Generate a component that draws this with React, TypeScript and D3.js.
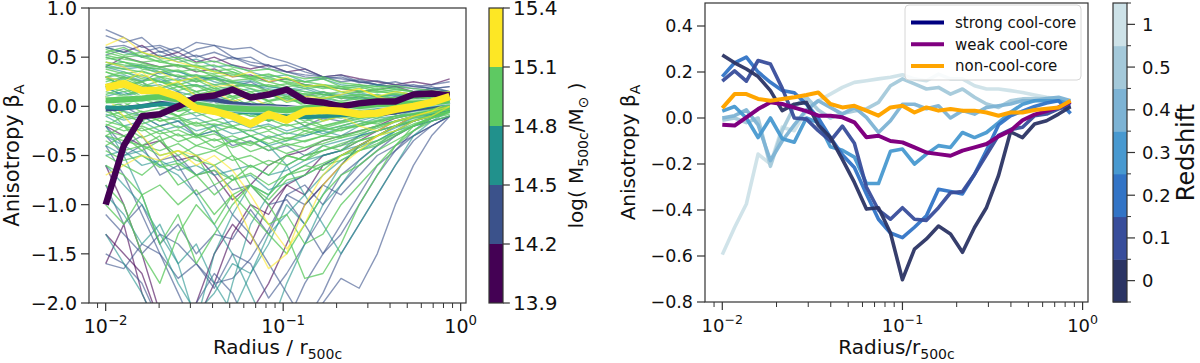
import React from 'react';
import * as d3 from 'd3';

// ---------- shared radial grid ----------
const LEFT_RADII = [0.0100, 0.01265, 0.0160, 0.0202, 0.0256, 0.0324, 0.0409, 0.0518, 0.0655, 0.0828, 0.1047, 0.1324, 0.1675, 0.2118, 0.2679, 0.3388, 0.4285, 0.5420, 0.6855, 0.8670];
const RIGHT_RADII = [0.0100, 0.0117, 0.0136, 0.0158, 0.0185, 0.0215, 0.0251, 0.0293, 0.0341, 0.0398, 0.0464, 0.0541, 0.0631, 0.0736, 0.0858, 0.1000, 0.1166, 0.1359, 0.1585, 0.1848, 0.2154, 0.2512, 0.2929, 0.3415, 0.3981, 0.4642, 0.5412, 0.6310, 0.7356, 0.8577];

// ---------- left panel: mass bins ----------
const MASS_EDGES = [13.9, 14.2, 14.5, 14.8, 15.1, 15.4];
const MASS_COLORS = ['#440154', '#3b528b', '#21918c', '#5ec962', '#fde725'];
const LEFT_Y_TICKS = [-2.0, -1.5, -1.0, -0.5, 0.0, 0.5, 1.0];

// individual cluster profiles: bin index (0..4) and values on LEFT_RADII
const THIN_BINS = [
  0, 0, 0, 0, 0, 0,
  1, 1, 1, 1, 1, 1, 1, 1, 1, 1, 1, 1, 1, 1,
  2, 2, 2, 2, 2, 2, 2, 2, 2, 2, 2, 2, 2, 2, 2, 2, 2, 2, 2, 2,
  3, 3, 3, 3, 3, 3, 3, 3, 3, 3, 3, 3, 3, 3, 3, 3, 3, 3, 3, 3,
  3, 3, 3, 3, 3, 3, 3, 3, 3, 3, 3, 3, 3, 3, 3, 3, 3, 3, 3, 3, 3, 3,
  4, 4, 4, 4, 4,
];
const THIN_PROFILES = [
  [.6, .55, .62, .5, .55, .45, .5, .42, .38, .42, .35, .38, .3, .32, .28, .25, .22, .25, .22, .28],
  [-1.6, -1.2, -1.9, -2.3, -2.5, -2.0, -1.5, -1.2, -1.4, -1.0, -.8, -.9, -.6, -.5, -.4, -.3, -.2, -.15, -.1, -.05],
  [-.6, -1.0, -1.5, -2.1, -2.4, -2.2, -1.8, -1.3, -1.0, -1.1, -.8, -.7, -.5, -.45, -.35, -.25, -.15, -.1, -.05, 0],
  [-.2, -.3, -.4, -.35, -.55, -.5, -.7, -.95, -.8, -.6, -.5, -.45, -.35, -.3, -.25, -.2, -.12, -.08, -.05, 0],
  [.4, .5, .45, .4, .42, .35, .38, .3, .32, .25, .28, .22, .2, .18, .15, .17, .2, .15, .18, .15],
  [-1.3, -1.5, -1.7, -2.2, -2.4, -2.6, -2.3, -2.5, -2.1, -1.8, -1.4, -1.0, -.8, -.6, -.4, -.3, -.2, -.1, -.05, 0],

  [.78, .7, .6, .62, .55, .65, .62, .58, .6, .5, .45, .38, .3, .28, .25, .22, .2, .18, .2, .15],
  [.72, .65, .7, .55, .6, .5, .55, .48, .5, .4, .42, .35, .3, .32, .25, .22, .25, .2, .22, .25],
  [-1.5, -1.6, -1.8, -2.2, -2.4, -2.0, -1.7, -1.9, -2.3, -2.6, -2.2, -1.8, -1.5, -1.2, -.9, -.6, -.45, -.3, -.2, -.1],
  [-1.1, -1.3, -1.5, -1.3, -1.4, -1.6, -1.8, -1.75, -1.55, -1.25, -.9, -.8, -1.0, -.7, -.55, -.4, -.3, -.2, -.15, -.1],
  [-.4, -.7, -1.1, -1.5, -1.9, -2.3, -2.5, -2.2, -2.4, -2.6, -2.3, -2.1, -2.0, -1.75, -1.85, -1.5, -1.0, -.6, -.3, -.1],
  [.1, 0, -.1, -.2, -.15, -.3, -.25, -.4, -.35, -.45, -.4, -.5, -.45, -.4, -.3, -.25, -.2, -.1, -.05, 0],
  [-1.6, -1.65, -1.4, -1.5, -1.75, -1.6, -1.85, -1.5, -1.6, -1.95, -1.7, -1.4, -1.1, -.8, -.6, -.45, -.3, -.2, -.12, -.05],
  [.3, .2, .25, .1, .15, 0, .05, -.1, -.05, -.15, -.1, -.2, -.12, -.15, -.1, -.05, -.08, 0, .02, .05],
  [.6, .62, .55, .6, .5, .58, .62, .5, .45, .42, .35, .32, .3, .25, .27, .22, .2, .22, .18, .2],
  [-.8, -1.2, -1.0, -1.4, -1.2, -1.5, -1.3, -1.35, -1.05, -1.3, -.9, -1.0, -.8, -.9, -.7, -.5, -.4, -.3, -.2, -.1],
  [-.3, -.5, -.4, -.7, -.6, -.9, -.8, -1.1, -1.3, -1.6, -1.9, -2.2, -1.9, -1.5, -1.2, -.9, -.6, -.35, -.2, -.1],
  [.2, .3, .25, .35, .3, .25, .3, .2, .25, .15, .2, .1, .15, .08, .1, .05, .1, .08, .1, .12],
  [.52, .58, .5, .56, .48, .52, .45, .5, .42, .38, .35, .3, .28, .3, .24, .26, .22, .2, .18, .2],
  [-.2, -.4, -.3, -.55, -.5, -.7, -.65, -.85, -.8, -1.0, -.95, -1.2, -1.5, -1.3, -1.0, -.7, -.45, -.25, -.12, -.05],

  [.6, .55, .5, .52, .45, .48, .4, .42, .35, .3, .32, .25, .28, .22, .2, .22, .18, .15, .18, .15],
  [.4, .35, .3, .25, .28, .2, .22, .15, .18, .1, .12, .05, .08, .05, .1, .05, .08, .05, .1, .08],
  [.1, .15, .05, .1, 0, .05, -.05, 0, -.08, -.05, -.12, -.08, -.1, -.05, -.08, -.02, 0, .02, .05, .05],
  [-.1, -.2, -.15, -.25, -.2, -.3, -.25, -.35, -.3, -.4, -.35, -.3, -.25, -.3, -.2, -.15, -.1, -.08, -.05, 0],
  [-.6, -.8, -1.0, -1.3, -1.6, -2.2, -2.5, -1.8, -1.2, -.9, -.7, -.6, -.5, -.45, -.3, -.25, -.2, -.15, -.1, -.05],
  [-1.3, -1.6, -1.9, -2.3, -2.5, -2.2, -1.5, -1.1, -.8, -.9, -.6, -.5, -.4, -.35, -.3, -.2, -.15, -.1, -.08, -.05],
  [.3, .25, .2, .22, .15, .1, .12, .05, .02, 0, -.05, -.02, -.08, -.05, -.02, 0, .02, .04, .03, .06],
  [-.3, -.4, -.5, -.6, -.7, -.9, -1.2, -1.5, -1.9, -2.3, -1.8, -1.4, -1.0, -.8, -.55, -.4, -.25, -.15, -.1, -.05],
  [.5, .45, .4, .38, .35, .3, .28, .25, .22, .2, .18, .15, .12, .1, .12, .1, .08, .1, .08, .07],
  [-.2, -.5, -.9, -1.4, -1.8, -2.1, -1.9, -1.6, -1.7, -1.4, -1.0, -1.2, -.9, -.6, -.4, -.3, -.2, -.12, -.08, -.04],
  [0, -.05, -.1, -.08, -.15, -.12, -.2, -.15, -.22, -.18, -.25, -.2, -.28, -.22, -.18, -.12, -.1, -.05, -.03, 0],
  [-.5, -.45, -.6, -.55, -.65, -.6, -.7, -.65, -.6, -.7, -.65, -.55, -.5, -.45, -.4, -.35, -.25, -.2, -.15, -.1],
  [.2, .1, .15, .05, 0, -.1, -.05, -.2, -.3, -.4, -.6, -.9, -1.2, -1.5, -1.2, -.9, -.6, -.3, -.15, -.05],
  [.45, .4, .42, .35, .3, .32, .25, .2, .22, .18, .15, .18, .12, .1, .08, .1, .12, .08, .1, .1],
  [.42, .38, .4, .33, .36, .28, .3, .24, .26, .2, .17, .2, .14, .12, .14, .1, .11, .09, .1, .1],
  [.18, .12, .16, .08, .1, .04, .06, -.02, .02, -.06, -.02, -.1, -.05, -.08, -.04, -.02, 0, .02, .03, .05],
  [-.08, -.14, -.1, -.2, -.15, -.25, -.2, -.28, -.24, -.32, -.27, -.3, -.24, -.2, -.15, -.1, -.07, -.04, -.02, .01],
  [-.4, -.5, -.45, -.6, -.55, -.7, -.6, -.75, -.7, -.85, -.78, -.7, -.6, -.5, -.4, -.3, -.22, -.15, -.08, -.04],
  [-.9, -1.1, -1.4, -1.2, -1.6, -1.4, -1.8, -2.1, -1.7, -1.3, -1.1, -.9, -.7, -.55, -.45, -.35, -.25, -.15, -.1, -.05],
  [.3, .32, .26, .28, .2, .22, .16, .18, .1, .12, .06, .08, .02, .05, .02, .04, .03, .05, .06, .07],

  [.55, .5, .52, .45, .42, .4, .35, .33, .3, .28, .25, .22, .2, .18, .2, .15, .17, .15, .12, .1],
  [.45, .42, .4, .38, .3, .32, .28, .25, .2, .22, .18, .15, .12, .15, .1, .12, .08, .1, .12, .08],
  [.3, .35, .28, .25, .2, .22, .15, .18, .1, .12, .08, .05, .1, .05, .08, .02, .05, .08, .06, .05],
  [.2, .15, .18, .1, .12, .05, .08, 0, .05, -.02, 0, -.05, .02, -.03, 0, .03, .02, .05, .04, .06],
  [.1, .05, .08, 0, -.05, -.02, -.08, -.05, -.1, -.12, -.08, -.15, -.1, -.12, -.08, -.05, -.06, -.02, 0, .02],
  [0, -.1, -.05, -.15, -.12, -.2, -.18, -.22, -.25, -.2, -.28, -.22, -.25, -.2, -.15, -.18, -.1, -.08, -.05, -.02],
  [-.15, -.2, -.25, -.2, -.3, -.28, -.35, -.3, -.38, -.32, -.4, -.35, -.3, -.32, -.25, -.2, -.15, -.12, -.1, -.05],
  [-.3, -.35, -.4, -.45, -.38, -.5, -.45, -.55, -.5, -.6, -.5, -.55, -.45, -.4, -.35, -.3, -.25, -.18, -.12, -.08],
  [.4, .38, .35, .3, .32, .25, .28, .2, .22, .15, .18, .12, .15, .1, .12, .1, .13, .1, .08, .1],
  [.5, .45, .42, .4, .35, .38, .3, .32, .28, .25, .2, .22, .18, .2, .15, .18, .15, .12, .15, .12],
  [-.5, -.6, -.7, -.55, -.8, -.7, -.9, -.75, -.6, -.7, -.5, -.55, -.4, -.45, -.35, -.3, -.2, -.15, -.1, -.05],
  [-1.0, -1.2, -.9, -1.4, -1.1, -1.6, -1.3, -1.0, -.8, -.9, -.7, -.6, -.65, -.5, -.45, -.4, -.3, -.2, -.12, -.05],
  [.3, .2, .1, 0, -.1, -.3, -.2, -.5, -.8, -1.0, -1.3, -1.75, -1.7, -1.4, -1.0, -.7, -.4, -.2, -.1, 0],
  [.2, .25, .15, .2, .1, .15, .05, .1, 0, .05, -.05, 0, -.1, -.05, -.08, 0, -.02, .02, .03, .05],
  [.35, .3, .25, .3, .2, .15, .2, .1, .15, .05, .1, 0, .05, .02, .05, .08, .05, .1, .08, .1],
  [-.2, -.1, -.15, -.05, -.1, 0, -.05, -.1, -.05, -.15, -.1, -.2, -.15, -.1, -.12, -.05, -.08, -.02, -.03, 0],
  [.05, 0, .1, .05, -.05, .02, -.02, -.1, -.05, -.15, -.08, -.12, -.2, -.15, -.1, -.12, -.05, -.03, 0, .03],
  [-.4, -.3, -.45, -.35, -.5, -.4, -.45, -.35, -.4, -.3, -.35, -.25, -.3, -.22, -.2, -.15, -.12, -.08, -.05, -.02],
  [-.8, -1.0, -1.5, -1.8, -1.3, -1.0, -1.2, -.9, -1.1, -1.3, -1.5, -1.2, -.9, -.7, -.6, -.45, -.35, -.25, -.15, -.1],
  [.55, .6, .5, .45, .48, .4, .42, .35, .3, .32, .28, .25, .22, .2, .18, .2, .17, .15, .14, .12],
  [.52, .48, .45, .47, .4, .42, .36, .38, .3, .33, .27, .25, .28, .2, .22, .17, .19, .15, .16, .12],
  [.42, .45, .38, .35, .37, .3, .32, .26, .28, .2, .23, .18, .2, .15, .14, .16, .12, .13, .1, .11],
  [.35, .28, .32, .25, .22, .27, .18, .2, .15, .17, .1, .13, .08, .1, .06, .09, .07, .1, .08, .09],
  [.25, .3, .22, .18, .24, .15, .18, .1, .13, .06, .1, .03, .06, .02, .05, .04, .06, .05, .07, .08],
  [.15, .1, .18, .08, .12, .05, .02, .07, -.02, .03, -.04, 0, -.06, -.02, -.04, 0, .01, .03, .04, .05],
  [.05, .12, 0, .06, -.03, .02, -.06, -.02, -.1, -.05, -.12, -.08, -.14, -.1, -.06, -.08, -.03, -.01, .01, .03],
  [-.05, -.12, -.08, -.15, -.1, -.18, -.14, -.2, -.16, -.24, -.18, -.25, -.2, -.16, -.12, -.1, -.06, -.04, -.02, .01],
  [-.1, -.05, -.18, -.12, -.22, -.16, -.26, -.2, -.3, -.25, -.33, -.28, -.22, -.25, -.18, -.14, -.1, -.07, -.04, -.01],
  [-.25, -.3, -.22, -.35, -.28, -.4, -.33, -.42, -.36, -.45, -.38, -.42, -.35, -.3, -.26, -.2, -.15, -.1, -.06, -.03],
  [-.35, -.45, -.4, -.5, -.45, -.55, -.6, -.5, -.62, -.55, -.6, -.5, -.45, -.38, -.32, -.25, -.2, -.14, -.09, -.05],
  [.48, .5, .44, .4, .42, .36, .33, .35, .28, .3, .24, .2, .22, .18, .16, .14, .15, .12, .1, .09],
  [.38, .33, .36, .3, .26, .28, .22, .24, .18, .14, .16, .1, .12, .08, .1, .07, .09, .06, .08, .07],
  [.28, .22, .25, .15, .2, .12, .16, .08, .12, .05, .08, .02, .04, 0, .03, .01, .04, .03, .05, .06],
  [.12, .18, .08, .14, .04, .09, 0, .05, -.04, 0, -.08, -.04, -.1, -.06, -.09, -.04, -.05, -.02, 0, .02],
  [-.02, .04, -.06, -.02, -.1, -.06, -.14, -.1, -.18, -.13, -.2, -.16, -.22, -.17, -.13, -.09, -.07, -.04, -.01, .02],
  [-.18, -.25, -.2, -.28, -.24, -.32, -.28, -.36, -.3, -.38, -.32, -.36, -.3, -.24, -.2, -.16, -.12, -.08, -.05, -.02],
  [-.45, -.55, -.5, -.62, -.58, -.7, -.65, -.75, -.68, -.8, -.7, -.65, -.58, -.5, -.42, -.35, -.28, -.2, -.12, -.06],
  [.58, .52, .55, .48, .5, .44, .46, .4, .36, .38, .32, .28, .3, .24, .22, .2, .21, .18, .16, .14],
  [.22, .28, .2, .26, .16, .21, .12, .16, .08, .13, .04, .08, .02, .06, .02, .05, .03, .06, .05, .07],
  [-.3, -.2, -.32, -.25, -.36, -.3, -.42, -.35, -.46, -.4, -.48, -.42, -.38, -.32, -.28, -.22, -.16, -.11, -.07, -.03],
  [-.6, -.7, -.9, -.8, -1.0, -.85, -1.1, -.9, -.8, -.95, -.75, -.7, -.6, -.55, -.45, -.38, -.28, -.2, -.12, -.06],
  [0, -.2, -.4, -.3, -.6, -.5, -.8, -.7, -1.0, -1.2, -1.1, -1.4, -1.3, -1.0, -.8, -.6, -.4, -.25, -.12, -.05],

  [.62, .7, .55, .5, .45, .4, .35, .3, .35, .25, .3, .2, .22, .15, .18, .1, .15, .12, .1, .08],
  [-.7, -.6, -.5, -.55, -.45, -.5, -.6, -.9, -1.3, -1.65, -1.5, -1.0, -.7, -.5, -.4, -.3, -.2, -.1, -.05, 0],
  [.1, -.1, -.3, -.5, -.45, -.6, -.5, -.65, -.9, -1.2, -1.45, -1.2, -.8, -.6, -.45, -.3, -.25, -.15, -.1, 0],
  [.3, .25, .35, .2, .25, .1, .15, .05, .1, 0, -.1, -.05, -.15, -.1, -.2, -.25, -.15, -.1, -.05, .05],
  [.45, .4, .3, .35, .25, .3, .2, .22, .1, .15, .05, .1, .08, .12, .18, .1, .05, .1, .12, .15],
];

// median profile of each mass bin (index = bin)
const MEDIAN_PROFILES = [
  [-1.0, -0.4, -0.1, -0.08, 0.0, 0.09, 0.11, 0.17, 0.09, 0.12, 0.17, 0.06, 0.04, 0.0, 0.03, 0.05, 0.05, 0.12, 0.13, 0.11],
  [-0.03, -0.02, 0.0, 0.03, 0.06, 0.08, 0.07, 0.03, 0.01, 0.0, -0.01, -0.02, -0.04, -0.06, -0.08, -0.08, -0.06, -0.03, 0.0, 0.05],
  [-0.01, -0.02, 0.0, 0.02, 0.02, 0.0, -0.02, -0.05, -0.06, -0.08, -0.1, -0.11, -0.1, -0.09, -0.08, -0.07, -0.04, -0.02, 0.01, 0.04],
  [0.06, 0.07, 0.08, 0.1, 0.07, 0.02, -0.01, -0.02, -0.03, -0.03, -0.04, -0.02, 0.0, 0.02, 0.0, 0.02, 0.03, 0.03, 0.04, 0.06],
  [0.19, 0.23, 0.16, 0.16, 0.1, -0.02, -0.05, -0.1, -0.18, -0.08, -0.14, -0.05, -0.04, -0.05, -0.08, -0.07, -0.03, 0.0, 0.04, 0.1],
];
const MEDIAN_ORDER = [1, 2, 3, 0, 4];
const MEDIAN_WIDTHS = [6.5, 4.5, 4, 6, 7.5];

// ---------- right panel: redshift evolution ----------
const REDSHIFT_LABELS = ['0', '0.1', '0.2', '0.3', '0.4', '0.5', '1'];
const REDSHIFT_COLORS = ['#2b3464', '#384d9b', '#3274c6', '#4899d0', '#7db3d4', '#a4c9da', '#cde2e8'];
const REDSHIFT_PROFILES = [
  [0.274, 0.24, 0.213, 0.18, 0.119, 0.032, 0.06, 0.068, -0.03, -0.084, -0.18, -0.28, -0.396, -0.39, -0.5, -0.703, -0.57, -0.526, -0.47, -0.504, -0.584, -0.476, -0.389, -0.25, -0.06, -0.085, -0.026, -0.012, 0.017, 0.049],
  [0.16, 0.205, 0.16, 0.25, 0.235, 0.13, 0.0, -0.005, -0.055, -0.1, -0.035, -0.11, -0.3, -0.4, -0.44, -0.39, -0.44, -0.445, -0.39, -0.325, -0.32, -0.245, -0.16, -0.075, -0.05, -0.04, 0.01, 0.017, 0.04, 0.053],
  [0.18, 0.24, 0.265, 0.2, 0.155, 0.12, 0.11, 0.06, 0.0, -0.085, -0.16, -0.215, -0.33, -0.44, -0.5, -0.52, -0.475, -0.425, -0.31, -0.32, -0.33, -0.245, -0.14, -0.03, 0.01, 0.03, 0.05, 0.065, 0.075, 0.02],
  [0.03, 0.05, 0.0, -0.085, 0.0, -0.09, -0.105, 0.0, -0.02, -0.125, -0.14, -0.17, -0.285, -0.285, -0.145, -0.135, -0.2, -0.157, -0.12, -0.128, -0.063, -0.085, -0.063, -0.02, 0.025, 0.06, 0.075, 0.075, 0.075, 0.06],
  [0.0, 0.01, 0.035, -0.03, -0.185, -0.1, -0.03, 0.035, 0.075, 0.046, 0.017, 0.046, 0.003, -0.063, -0.012, 0.06, 0.06, 0.04, 0.053, 0.0, 0.032, 0.017, 0.046, 0.053, 0.061, 0.075, 0.075, 0.085, 0.09, 0.075],
  [-0.01, 0.0, -0.02, 0.0, -0.21, -0.055, 0.05, 0.09, 0.035, 0.0, 0.02, 0.03, 0.04, 0.068, 0.14, 0.17, 0.148, 0.126, 0.133, 0.104, 0.126, 0.09, 0.061, 0.046, 0.075, 0.083, 0.085, 0.085, 0.083, 0.068],
  [-0.594, -0.476, -0.374, -0.157, -0.2, -0.04, -0.055, 0.032, 0.075, 0.104, 0.133, 0.155, 0.162, 0.17, 0.177, 0.188, 0.17, 0.162, 0.191, 0.17, 0.17, 0.14, 0.126, 0.126, 0.119, 0.111, 0.1, 0.09, 0.083, 0.075],
];
const WEAK_CC = [-0.029, -0.033, 0.003, 0.039, 0.068, 0.061, 0.045, 0.03, 0.01, 0.01, 0.003, -0.019, -0.084, -0.077, -0.1, -0.106, -0.128, -0.15, -0.157, -0.164, -0.142, -0.128, -0.113, -0.08, -0.055, -0.01, 0.015, 0.03, 0.046, 0.07];
const NON_CC = [0.043, 0.104, 0.104, 0.083, 0.075, 0.083, 0.09, 0.1, 0.111, 0.061, 0.046, 0.053, 0.032, 0.01, 0.046, 0.053, 0.024, 0.046, 0.032, 0.039, 0.032, 0.032, 0.024, 0.01, 0.024, 0.024, 0.035, 0.04, 0.046, 0.075];
const LEGEND_LABELS = ['strong cool-core', 'weak cool-core', 'non-cool-core'];
const LEGEND_COLORS = ['#000080', '#800080', '#ffa500'];
const RIGHT_Y_TICKS = [-0.8, -0.6, -0.4, -0.2, 0.0, 0.2, 0.4];

const X_DECADES = [-2, -1, 0];
const FONT = 'DejaVu Sans, sans-serif';
const AXIS_COLOR = '#333';

const fmt = (v: number) => (v < 0 ? '\u2212' : '') + Math.abs(v).toFixed(1);

function minorTicks(domain: [number, number]) {
  const out: number[] = [];
  for (let e = -4; e <= 1; e++) {
    for (let m = 2; m <= 9; m++) {
      const v = m * Math.pow(10, e);
      if (v >= domain[0] && v <= domain[1]) out.push(v);
    }
  }
  return out;
}

function LogXAxis({ x, y0, fontSize }: { x: d3.ScaleLogarithmic<number, number>; y0: number; fontSize: number }) {
  const dom = x.domain() as [number, number];
  return (
    <g>
      {minorTicks(dom).map((v, i) => (
        <line key={'m' + i} x1={x(v)} x2={x(v)} y1={y0} y2={y0 + 5} stroke={AXIS_COLOR} strokeWidth={1} />
      ))}
      {X_DECADES.map((e) => {
        const v = Math.pow(10, e);
        return (
          <g key={e}>
            <line x1={x(v)} x2={x(v)} y1={y0} y2={y0 + 8} stroke={AXIS_COLOR} strokeWidth={1.2} />
            <text x={x(v)} y={y0 + 30} textAnchor="middle" fontFamily={FONT} fontSize={fontSize} fill="#111">
              <tspan>10</tspan>
              <tspan dy={-fontSize * 0.42} fontSize={fontSize * 0.7}>{e === 0 ? '0' : '\u2212' + Math.abs(e)}</tspan>
            </text>
          </g>
        );
      })}
    </g>
  );
}

function LeftPanel() {
  const L = 89, R = 466, T = 8, B = 303;
  const x = d3.scaleLog().domain([Math.pow(10, -2.094), Math.pow(10, 0.03)]).range([L, R]);
  const y = d3.scaleLinear().domain([-2, 1]).range([B, T]);
  const line = d3.line<number>().x((_, i) => x(LEFT_RADII[i])).y((d) => y(d));
  const thinOrder = [0, 1, 2, 3, 4];
  const cbL = 489, cbR = 503;
  const cy = d3.scaleLinear().domain([MASS_EDGES[0], MASS_EDGES[MASS_EDGES.length - 1]]).range([B, T]);
  return (
    <g>
      <defs>
        <clipPath id="clipL"><rect x={L} y={T} width={R - L} height={B - T} /></clipPath>
      </defs>
      <g clipPath="url(#clipL)">
        {thinOrder.map((bin) =>
          THIN_PROFILES.map((p, i) =>
            THIN_BINS[i] === bin ? (
              <path key={'t' + i} d={line(p) || ''} fill="none" stroke={MASS_COLORS[bin]} strokeWidth={1.4} strokeOpacity={bin === 3 ? 0.78 : 0.6} strokeLinejoin="round" />
            ) : null
          )
        )}
        {MEDIAN_ORDER.map((bin) => (
          <g key={'m' + bin}>
            {bin === 3 ? (
              <path d={line(MEDIAN_PROFILES[bin]) || ''} fill="none" stroke="#ffffff" strokeOpacity={0.6} strokeWidth={MEDIAN_WIDTHS[bin] + 2} strokeLinejoin="round" />
            ) : null}
            <path d={line(MEDIAN_PROFILES[bin]) || ''} fill="none" stroke={MASS_COLORS[bin]} strokeWidth={MEDIAN_WIDTHS[bin]} strokeLinejoin="round" />
          </g>
        ))}
      </g>
      <rect x={L} y={T} width={R - L} height={B - T} fill="none" stroke={AXIS_COLOR} strokeWidth={1.2} />
      {LEFT_Y_TICKS.map((v) => (
        <g key={v}>
          <line x1={L - 8} x2={L} y1={y(v)} y2={y(v)} stroke={AXIS_COLOR} strokeWidth={1.2} />
          <text x={L - 12} y={y(v)} dy="0.36em" textAnchor="end" fontFamily={FONT} fontSize={19} fill="#111">{fmt(v)}</text>
        </g>
      ))}
      <LogXAxis x={x} y0={B} fontSize={19} />
      <text x={(L + R) / 2} y={354} textAnchor="middle" fontFamily={FONT} fontSize={20} fill="#111">
        <tspan>Radius / r</tspan>
        <tspan dy={5} fontSize={14}>500c</tspan>
      </text>
      <text transform={`translate(19,${(T + B) / 2}) rotate(-90)`} textAnchor="middle" fontFamily={FONT} fontSize={21} fill="#111">
        <tspan>Anisotropy β</tspan>
        <tspan dy={5} fontSize={14.5}>A</tspan>
      </text>
      {/* colorbar */}
      {MASS_COLORS.map((c, i) => (
        <rect key={c} x={cbL} y={cy(MASS_EDGES[i + 1])} width={cbR - cbL} height={cy(MASS_EDGES[i]) - cy(MASS_EDGES[i + 1])} fill={c} />
      ))}
      <rect x={cbL} y={T} width={cbR - cbL} height={B - T} fill="none" stroke={AXIS_COLOR} strokeWidth={1.2} />
      {MASS_EDGES.map((v) => (
        <g key={v}>
          <line x1={cbR} x2={cbR + 7} y1={cy(v)} y2={cy(v)} stroke={AXIS_COLOR} strokeWidth={1.2} />
          <text x={cbR + 10} y={cy(v)} dy="0.36em" fontFamily={FONT} fontSize={20} fill="#111">{v.toFixed(1)}</text>
        </g>
      ))}
      <text transform={`translate(583,${(T + B) / 2}) rotate(-90)`} textAnchor="middle" fontFamily={FONT} fontSize={20} fill="#111">
        <tspan>log( M</tspan>
        <tspan dy={5} fontSize={14}>500c</tspan>
        <tspan dy={-5}>/M</tspan>
        <tspan dy={5} fontSize={14}>⊙</tspan>
        <tspan dy={-5}> )</tspan>
      </text>
    </g>
  );
}

function RightPanel() {
  const L = 705, R = 1088, T = 3, B = 302;
  const x = d3.scaleLog().domain([Math.pow(10, -2.096), Math.pow(10, 0.03)]).range([L, R]);
  const y = d3.scaleLinear().domain([-0.8, 0.5]).range([B, T]);
  const line = d3.line<number>().x((_, i) => x(RIGHT_RADII[i])).y((d) => y(d));
  const cbL = 1113, cbR = 1127;
  const n = REDSHIFT_LABELS.length;
  const band = (B - T) / n;
  const drawOrder = d3.range(n).reverse();
  return (
    <g>
      <defs>
        <clipPath id="clipR"><rect x={L} y={T} width={R - L} height={B - T} /></clipPath>
      </defs>
      <g clipPath="url(#clipR)">
        {drawOrder.map((k) => (
          <path key={k} d={line(REDSHIFT_PROFILES[k]) || ''} fill="none" stroke={REDSHIFT_COLORS[k]} strokeWidth={3.6} strokeOpacity={0.95} strokeLinejoin="round" />
        ))}
        <path d={line(WEAK_CC) || ''} fill="none" stroke={LEGEND_COLORS[1]} strokeWidth={4} strokeLinejoin="round" />
        <path d={line(NON_CC) || ''} fill="none" stroke={LEGEND_COLORS[2]} strokeWidth={4} strokeLinejoin="round" />
      </g>
      <rect x={L} y={T} width={R - L} height={B - T} fill="none" stroke={AXIS_COLOR} strokeWidth={1.2} />
      {RIGHT_Y_TICKS.map((v) => (
        <g key={v}>
          <line x1={L - 8} x2={L} y1={y(v)} y2={y(v)} stroke={AXIS_COLOR} strokeWidth={1.2} />
          <text x={L - 12} y={y(v)} dy="0.36em" textAnchor="end" fontFamily={FONT} fontSize={17.5} fill="#111">{fmt(v)}</text>
        </g>
      ))}
      <LogXAxis x={x} y0={B} fontSize={18} />
      <text x={(L + R) / 2} y={354} textAnchor="middle" fontFamily={FONT} fontSize={20} fill="#111">
        <tspan>Radius/r</tspan>
        <tspan dy={5} fontSize={14}>500c</tspan>
      </text>
      <text transform={`translate(635,${(T + B) / 2}) rotate(-90)`} textAnchor="middle" fontFamily={FONT} fontSize={20} fill="#111">
        <tspan>Anisotropy β</tspan>
        <tspan dy={5} fontSize={14}>A</tspan>
      </text>
      {/* legend */}
      <rect x={905} y={5} width={176} height={75} rx={4} fill="#fff" fillOpacity={0.85} stroke="#d6d6d6" />
      {LEGEND_LABELS.map((lab, i) => (
        <g key={lab}>
          <line x1={911} x2={944} y1={22.5 + i * 21.7} y2={22.5 + i * 21.7} stroke={LEGEND_COLORS[i]} strokeWidth={4} />
          <text x={955} y={22.5 + i * 21.7} dy="0.36em" fontFamily={FONT} fontSize={15} fill="#111">{lab}</text>
        </g>
      ))}
      {/* colorbar */}
      {REDSHIFT_COLORS.map((c, k) => (
        <rect key={c} x={cbL} y={B - (k + 1) * band} width={cbR - cbL} height={band + 0.5} fill={c} />
      ))}
      <rect x={cbL} y={T} width={cbR - cbL} height={B - T} fill="none" stroke={AXIS_COLOR} strokeWidth={1.2} />
      {d3.range(n + 1).map((k) => (
        <line key={'b' + k} x1={cbR} x2={cbR + 4} y1={B - k * band} y2={B - k * band} stroke={AXIS_COLOR} strokeWidth={1} />
      ))}
      {REDSHIFT_LABELS.map((lab, k) => {
        const yc = B - (k + 0.5) * band;
        return (
          <g key={lab}>
            <line x1={cbR} x2={cbR + 8} y1={yc} y2={yc} stroke={AXIS_COLOR} strokeWidth={1.2} />
            <text x={cbR + 15} y={yc} dy="0.36em" fontFamily={FONT} fontSize={18} fill="#111">{lab}</text>
          </g>
        );
      })}
      <text transform={`translate(1194,${(T + B) / 2}) rotate(-90)`} textAnchor="middle" fontFamily={FONT} fontSize={24} fill="#111">Redshift</text>
    </g>
  );
}

export default function App() {
  return (
    <svg width={1200} height={363} style={{ position: 'absolute', left: 0, top: 0, background: '#fff' }}>
      <rect x={0} y={0} width={1200} height={363} fill="#fff" />
      <LeftPanel />
      <RightPanel />
    </svg>
  );
}
